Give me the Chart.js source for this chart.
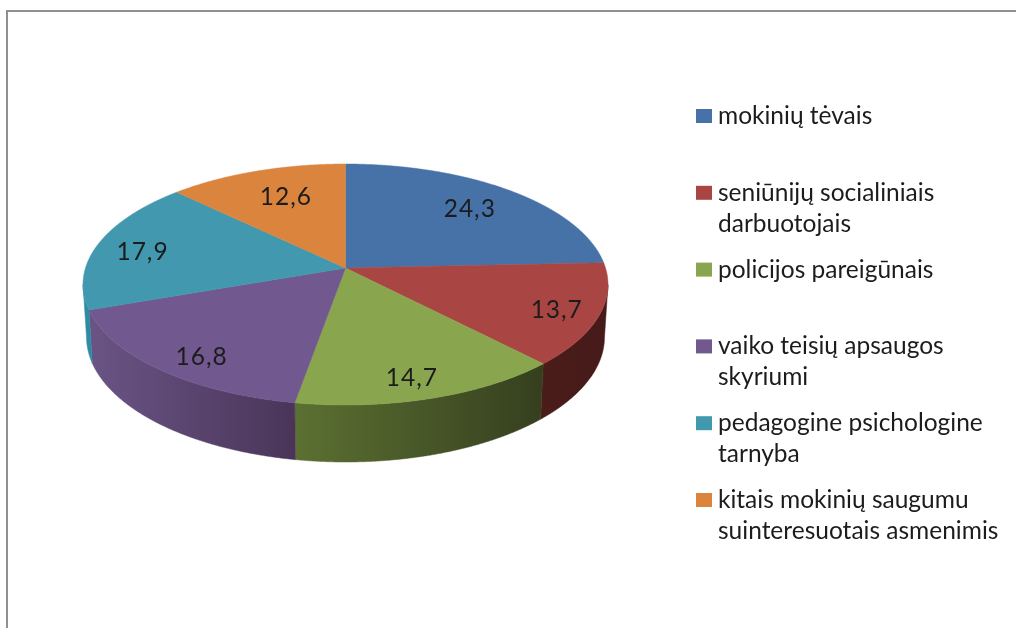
<!DOCTYPE html>
<html>
<head>
<meta charset="utf-8">
<style>html,body{margin:0;padding:0;background:#fff}canvas{display:block}</style>
<script src="https://cdn.jsdelivr.net/npm/chart.js@4"></script>
</head>
<body>
<canvas id="c" width="1016" height="628"></canvas>
<script>
const categories = ["mokinių tėvais","seniūnijų socialiniais darbuotojais","policijos pareigūnais","vaiko teisių apsaugos skyriumi","pedagogine psichologine tarnyba","kitais mokinių saugumu suinteresuotais asmenimis"];
const values = [24.3,13.7,14.7,16.8,17.9,12.6];
const topColors = ["#4672A8","#A94643","#89A54E","#71588F","#4198AF","#DB843D"];
const sideLeft = ["#2f5078","#4a1c1a","#5c7032","#6a5485","#2f8aa3","#8f5526"];
const sideRight = ["#2f5078","#451a18","#353f1e","#4a3559","#2f8aa3","#8f5526"];
const labelRadii = [0.742,0.846,0.856,0.846,0.806,0.702];
const labelTurnDeg = [0,1.6,1.4,-3.6,-2.9,1.8];

const SQUASH = 120.5/262.5, TILT = -0.137;
const BOTTOM = {dy:52.5, rxScale:259/262.5, ryScale:125/120.5};
const FONT = '24.5px Lato';
const TEXT = '#1c1c1c';
const LEGEND = {boxX:696, boxW:16, boxH:14, textX:718, firstY:116, step:76.8, lineH:31, wrap:290};

function project(el, a, r){
  const X=r*Math.cos(a), Y=r*Math.sin(a), den=1+TILT*Y, s=Math.sqrt(1-TILT*TILT);
  return {X:X*s/den, Y:(Y+TILT)/den};
}
function arcSamples(el){
  const pts=[], n=Math.max(2,Math.ceil((el.endAngle-el.startAngle)/0.004));
  for(let i=0;i<=n;i++) pts.push(project(el, el.startAngle+(el.endAngle-el.startAngle)*i/n, 1));
  return pts;
}
const pie3d = {
  id:'pie3d',
  beforeDraw(chart){
    const c=chart.ctx; c.save();
    c.fillStyle='#fff'; c.fillRect(0,0,chart.width,chart.height);
    c.fillStyle='#909090'; c.fillRect(6,10,chart.width-6,2); c.fillRect(6,10,2,chart.height-10);
    c.restore();
  },
  beforeDatasetDraw(chart,args){
    const c=chart.ctx, arcs=chart.getDatasetMeta(args.index).data;
    arcs.forEach((el,i)=>{ // sides
      const R=el.outerRadius, ry=R*SQUASH;
      const pts=arcSamples(el).filter(p=>p.Y>=0);
      if(pts.length<2) return;
      const xs=pts.map(p=>el.x+R*p.X);
      const g=c.createLinearGradient(Math.min(...xs),0,Math.max(...xs),0);
      g.addColorStop(0,sideLeft[i]); g.addColorStop(1,sideRight[i]);
      c.beginPath();
      pts.forEach((p,k)=>{const x=el.x+R*p.X,y=el.y+ry*p.Y; k?c.lineTo(x,y):c.moveTo(x,y);});
      pts.slice().reverse().forEach(p=>c.lineTo(el.x+R*BOTTOM.rxScale*p.X, el.y+BOTTOM.dy+ry*BOTTOM.ryScale*p.Y));
      c.closePath(); c.fillStyle=g; c.strokeStyle=g; c.lineWidth=0.5; c.fill(); c.stroke();
    });
    arcs.forEach((el,i)=>{ // tops
      const R=el.outerRadius, ry=R*SQUASH, o=project(el,0,0);
      c.beginPath(); c.moveTo(el.x+R*o.X, el.y+ry*o.Y);
      arcSamples(el).forEach(p=>c.lineTo(el.x+R*p.X, el.y+ry*p.Y));
      c.closePath(); c.fillStyle=topColors[i]; c.strokeStyle=topColors[i]; c.lineWidth=0.5; c.fill(); c.stroke();
    });
    return false;
  },
  afterDatasetsDraw(chart){
    const c=chart.ctx, arcs=chart.getDatasetMeta(0).data;
    c.save(); c.font=FONT; c.fillStyle=TEXT;
    c.textAlign='center'; c.textBaseline='middle';
    c.letterSpacing='1px';
    arcs.forEach((el,i)=>{
      const mid=(el.startAngle+el.endAngle)/2+labelTurnDeg[i]*Math.PI/180;
      const p=project(el,mid,labelRadii[i]), R=el.outerRadius;
      c.fillText(String(values[i]).replace('.',','), el.x+R*p.X, el.y+R*SQUASH*p.Y);
    });
    c.letterSpacing='0px';
    c.textAlign='left'; c.textBaseline='alphabetic';
    categories.forEach((t,i)=>{
      const cy=LEGEND.firstY+LEGEND.step*i;
      c.fillStyle=topColors[i];
      c.fillRect(LEGEND.boxX,cy-LEGEND.boxH/2,LEGEND.boxW,LEGEND.boxH);
      c.fillStyle=TEXT;
      const lines=[]; let cur='';
      t.split(' ').forEach(w=>{const n=cur?cur+' '+w:w; if(c.measureText(n).width>LEGEND.wrap&&cur){lines.push(cur);cur=w;}else cur=n;});
      lines.push(cur);
      lines.forEach((l,k)=>c.fillText(l,LEGEND.textX,cy+8+k*LEGEND.lineH));
    });
    c.restore();
  }
};
new Chart(document.getElementById('c'),{
  type:'pie',
  data:{labels:categories,datasets:[{data:values,backgroundColor:topColors,borderWidth:0}]},
  options:{
    responsive:false,animation:false,
    layout:{padding:{left:0,right:325,top:22,bottom:81}},
    plugins:{legend:{display:false},tooltip:{enabled:false},title:{display:false}}
  },
  plugins:[pie3d]
});
</script>
</body>
</html>
